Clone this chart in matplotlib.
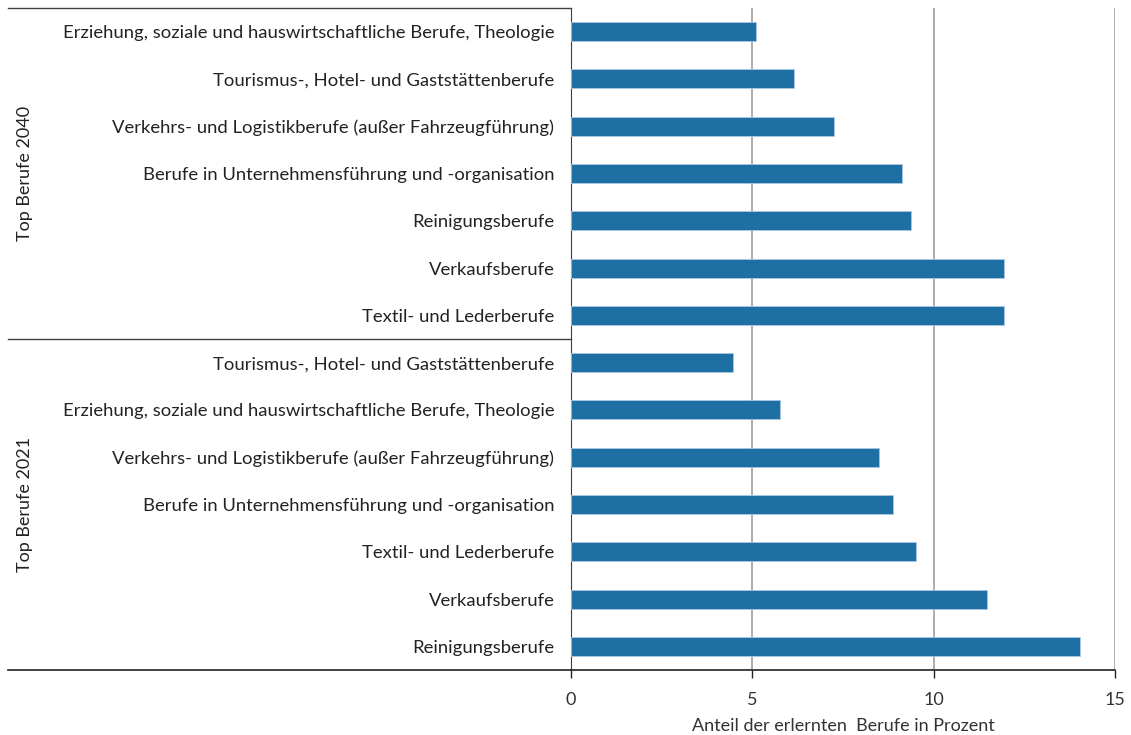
import matplotlib.pyplot as plt
from matplotlib import transforms

plt.rcParams['font.family'] = ['Lato', 'DejaVu Sans']

# rows from top to bottom
berufe_2040 = [
    'Erziehung, soziale und hauswirtschaftliche Berufe, Theologie',
    'Tourismus-, Hotel- und Gaststättenberufe',
    'Verkehrs- und Logistikberufe (außer Fahrzeugführung)',
    'Berufe in Unternehmensführung und -organisation',
    'Reinigungsberufe',
    'Verkaufsberufe',
    'Textil- und Lederberufe',
]
anteil_2040 = [5.1, 6.15, 7.26, 9.14, 9.38, 11.95, 11.95]

berufe_2021 = [
    'Tourismus-, Hotel- und Gaststättenberufe',
    'Erziehung, soziale und hauswirtschaftliche Berufe, Theologie',
    'Verkehrs- und Logistikberufe (außer Fahrzeugführung)',
    'Berufe in Unternehmensführung und -organisation',
    'Textil- und Lederberufe',
    'Verkaufsberufe',
    'Reinigungsberufe',
]
anteil_2021 = [4.47, 5.76, 8.48, 8.89, 9.52, 11.47, 14.04]

gruppen = ['Top Berufe 2040', 'Top Berufe 2021']
x_ticks = [0, 5, 10, 15]

labels = berufe_2040 + berufe_2021
values = anteil_2040 + anteil_2021
pos = list(range(len(labels)))

fig = plt.figure(figsize=(11.31, 7.35), dpi=100)
ax = fig.add_axes([571 / 1131, 1 - 670 / 735, 544 / 1131, 662 / 735])

ax.barh(pos, values, height=0.4, color='#1d6fa4', edgecolor='#a9c8e0',
        linewidth=0.6, zorder=3)

ax.set_ylim(len(labels) - 0.5, -0.5)
ax.set_xlim(0, 15)
ax.set_xticks(x_ticks)
ax.set_yticks(pos)
ax.set_yticklabels(labels, fontsize=13.3, color='#222222')
ax.tick_params(axis='y', length=0, pad=12)
ax.tick_params(axis='x', length=6, width=1, color='#222222', labelsize=13,
               labelcolor='#333333', pad=10)
ax.set_xlabel('Anteil der erlernten  Berufe in Prozent', fontsize=13,
              color='#333333', labelpad=7)

for x in x_ticks[1:]:
    ax.axvline(x, color='#a6a6a6', linewidth=1.3, zorder=1)

for s in ['top', 'right']:
    ax.spines[s].set_visible(False)
ax.spines['left'].set_color('#404040')
ax.spines['bottom'].set_color('#222222')
ax.spines['bottom'].set_linewidth(1.2)

# group frame lines on the left side
trans = transforms.blended_transform_factory(ax.transAxes, ax.transData)
x_left = -(571 - 8) / 544
ax.plot([x_left, 0], [-0.5, -0.5], transform=trans, color='#404040',
        linewidth=1, clip_on=False)
ax.plot([x_left, 0], [6.5, 6.5], transform=trans, color='#404040',
        linewidth=1, clip_on=False)
ax.plot([x_left, 0], [13.5, 13.5], transform=trans, color='#222222',
        linewidth=1.2, clip_on=False)

x_grp = -(571 - 25) / 544
ax.text(x_grp, 3, gruppen[0], transform=trans, rotation=90, ha='center',
        va='center', fontsize=13, color='#222222')
ax.text(x_grp, 10, gruppen[1], transform=trans, rotation=90, ha='center',
        va='center', fontsize=13, color='#222222')

fig.savefig('out.png', dpi=100)
